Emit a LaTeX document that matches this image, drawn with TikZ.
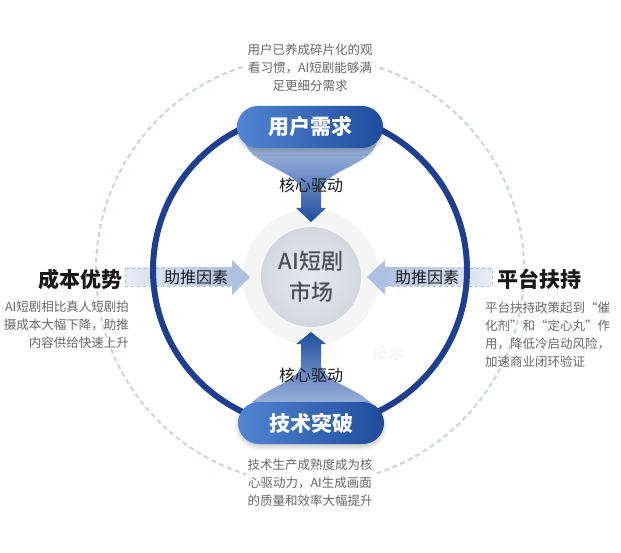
\documentclass[tikz,border=0pt]{standalone}
\usepackage{fontspec}
\setmainfont{Noto Sans CJK SC}
\newfontfamily\corefont{Noto Sans CJK SC}[UprightFont={* Medium}]
\usepackage{xcolor}
\usepackage{tikz}
\usetikzlibrary{shadows.blur}
\definecolor{ringblue}{HTML}{1E3F8F}
\definecolor{pillleft}{HTML}{5085D2}
\definecolor{pillright}{HTML}{1F4C9C}
\definecolor{funnellight}{HTML}{A9BEE2}
\definecolor{funnelpale}{HTML}{EBF0F8}
\definecolor{funneldark}{HTML}{1F4E9E}
\definecolor{pushlight}{HTML}{E8EDF6}
\definecolor{pushdark}{HTML}{AFC1E2}
\definecolor{dashblue}{HTML}{C6D4EB}
\definecolor{desctext}{HTML}{676767}
\definecolor{coretext}{HTML}{4C5058}
\definecolor{corein}{HTML}{E7E9ED}
\definecolor{coreout}{HTML}{D3D7DF}

\begin{document}
\begin{tikzpicture}[x=1pt,y=-1pt,
  desc/.style={font=\fontsize{12.5}{18}\selectfont,text=desctext,inner sep=0pt},
  sidelabel/.style={font=\fontsize{21}{24}\selectfont\bfseries,text=black!90,inner sep=0pt},
  pill/.style={rectangle,rounded corners=21pt,minimum width=146pt,minimum height=42pt,
    left color=pillleft,right color=pillright,text=white,
    font=\fontsize{21}{24}\selectfont\bfseries,
    blur shadow={shadow xshift=0pt,shadow yshift=-3pt,shadow blur radius=4pt,shadow opacity=22}},
  drive/.style={font=\fontsize{16}{18}\selectfont,text=black!90,inner sep=0pt},
  core/.style={circle,minimum size=100pt,inner color=corein,outer color=coreout,
    font=\corefont\fontsize{22}{31}\selectfont,text=coretext,align=center,inner sep=0pt},
  pushbox/.style={draw=pushdark,dashed,line width=0.8pt,left color=pushlight,right color=pushdark}]
\useasboundingbox (0,0) rectangle (621,553);
\draw[dashblue,line width=2pt,dash pattern=on 5pt off 3.5pt] (310,270) circle[radius=214];
\fill[black!4] (311,277) circle[radius=68];
\node[core] (market) at (311,277) {AI短剧\\市场};
\shade[pushbox] (125,268) rectangle (232,286);
\fill[pushdark] (232,260) -- (250,277) -- (232,295) -- cycle;
\shade[pushbox,left color=pushdark,right color=pushlight] (385,268) rectangle (492,286);
\fill[pushdark] (385,260) -- (367,277) -- (385,295) -- cycle;
\draw[ringblue,line width=6pt] (310,270) circle[radius=157];
\shade[top color=funnellight,middle color=funnelpale,bottom color=funneldark]
  (245,142) .. controls (250,165) and (297,170) .. (301,190) -- (301,208) -- (296,208)
  -- (311,222) -- (326,208) -- (321,208) -- (321,190) .. controls (325,170) and (372,165) .. (377,142) -- cycle;
\shade[top color=funneldark,middle color=funnelpale,bottom color=funnellight]
  (247,412) .. controls (252,390) and (297,385) .. (301,366) -- (301,344) -- (296,344)
  -- (311,332) -- (326,344) -- (321,344) -- (321,366) .. controls (325,385) and (370,390) .. (376,412) -- cycle;
\node[pill] (demand) at (310,127) {用户需求};
\node[pill] (tech) at (311,423) {技术突破};
\node[drive] (drivetop) at (311,185) {核心驱动};
\node[drive] (drivebot) at (311,375) {核心驱动};
\node[drive] (pushl) at (196,277) {助推因素};
\node[drive] (pushr) at (427,277) {助推因素};
\node[font=\fontsize{16}{18}\selectfont\bfseries,text=black!3] (mark) at (388,353) {技术};
\node[sidelabel,anchor=east] (cost) at (123,279) {成本优势};
\node[sidelabel,anchor=west] (policy) at (497,279) {平台扶持};
\node[desc,align=center,fill=white,inner sep=2pt] (topdesc) at (310,68) {用户已养成碎片化的观\\看习惯，AI短剧能够满\\足更细分需求};
\node[desc,align=center,fill=white,inner sep=2pt] (botdesc) at (310,483) {技术生产成熟度成为核\\心驱动力，AI生成画面\\的质量和效率大幅提升};
\node[desc,align=right,anchor=east] (costdesc) at (129,325) {AI短剧相比真人短剧拍\\摄成本大幅下降，助推\\内容供给快速上升};
\node[desc,align=left,anchor=west] (policydesc) at (485,335) {平台扶持政策起到\makebox[12.5pt][r]{“}催\\化剂\makebox[12.5pt][l]{”}和\makebox[12.5pt][r]{“}定心丸\makebox[12.5pt][l]{”}作\\用，降低冷启动风险，\\加速商业闭环验证};
\end{tikzpicture}
\end{document}
